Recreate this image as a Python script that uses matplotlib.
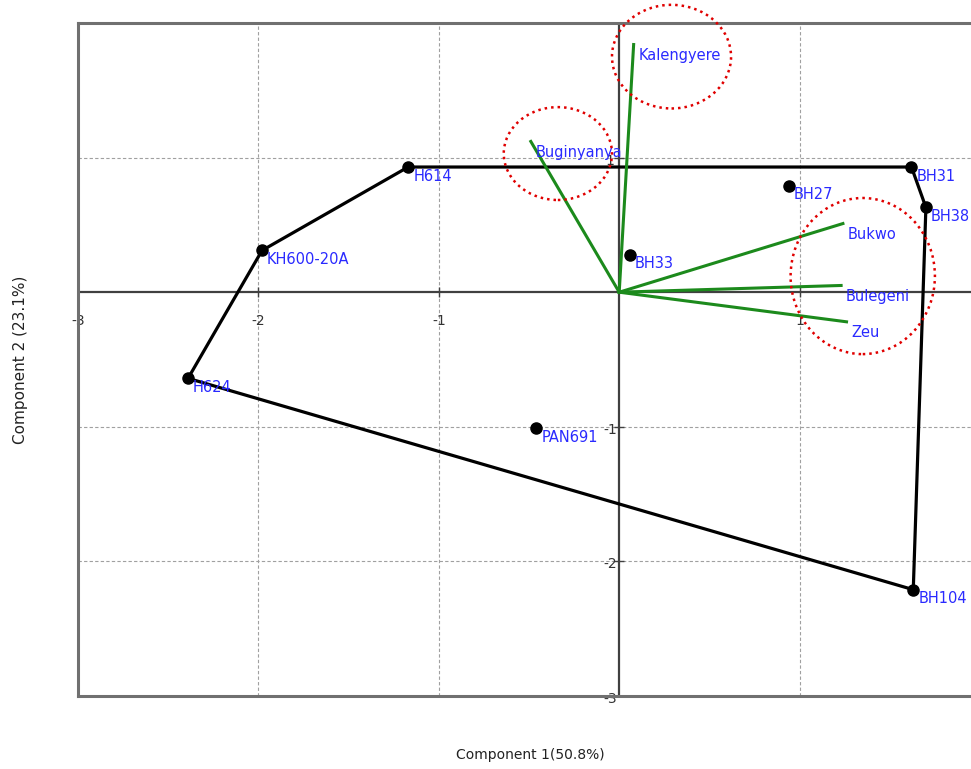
import matplotlib
matplotlib.use("Agg")
import matplotlib.pyplot as plt
from matplotlib.patches import Ellipse

# ---- data ----
genotypes = ["H614", "KH600-20A", "H624", "PAN691", "BH33", "BH27", "BH31", "BH38", "BH104"]
pc1 = [-1.17, -1.98, -2.39, -0.46, 0.06, 0.94, 1.62, 1.70, 1.63]
pc2 = [0.93, 0.31, -0.64, -1.01, 0.28, 0.79, 0.93, 0.63, -2.21]
hull_order = ["H614", "BH31", "BH38", "BH104", "H624", "KH600-20A", "H614"]

env_names = ["Kalengyere", "Buginyanya", "Bukwo", "Bulegeni", "Zeu"]
env_x = [0.08, -0.49, 1.24, 1.23, 1.26]
env_y = [1.84, 1.12, 0.51, 0.05, -0.22]

# highlighted groups (centre x, centre y, width, height) in data units
ell_cx = [0.29, -0.34, 1.35]
ell_cy = [1.75, 1.03, 0.12]
ell_w = [0.66, 0.60, 0.80]
ell_h = [0.77, 0.69, 1.16]

xticks = [-3, -2, -1, 1]
yticks = [-3, -2, -1, 1]
xlim = (-3, 1.95)
ylim = (-3, 2.0)

# ---- figure ----
fig = plt.figure(figsize=(9.71, 7.69), dpi=100)
ax = fig.add_axes([78/971, 1-696/769, 1-78/971, (696-23)/769])
ax.set_xlim(*xlim)
ax.set_ylim(*ylim)

for s in ["top", "left", "bottom"]:
    ax.spines[s].set_color("#707070")
    ax.spines[s].set_linewidth(2.2)
ax.spines["right"].set_visible(False)
ax.set_xticks([])
ax.set_yticks([])

# grid
for xt in [-2, -1, 1]:
    ax.axvline(xt, color="#a0a0a0", lw=0.8, ls=(0, (3, 2)), zorder=0)
for yt in [-2, -1, 1]:
    ax.axhline(yt, color="#a0a0a0", lw=0.8, ls=(0, (3, 2)), zorder=0)

# zero axes
ax.axhline(0, color="#404040", lw=1.6, zorder=1)
ax.axvline(0, color="#404040", lw=1.6, zorder=1)

# tick marks & labels on zero axes
ax.plot(xticks, [0]*len(xticks), ls="none", marker="|", ms=7, color="#404040", zorder=1)
ax.plot([0]*len(yticks), yticks, ls="none", marker="_", ms=7, color="#404040", zorder=1)
for xt in xticks:
    ax.annotate(str(xt), (xt, 0), xytext=(0, -29), textcoords="offset pixels",
                ha="center", va="center", fontsize=10, color="#333333", zorder=2)
for yt in yticks:
    ax.annotate(str(yt), (0, yt), xytext=(-9, -3), textcoords="offset pixels",
                ha="center", va="center", fontsize=10, color="#333333", zorder=2)

# hull
idx = {g: i for i, g in enumerate(genotypes)}
hx = [pc1[idx[g]] for g in hull_order]
hy = [pc2[idx[g]] for g in hull_order]
ax.plot(hx, hy, color="black", lw=2.3, zorder=3, solid_capstyle="round")

# environment vectors
for n, ex, ey in zip(env_names, env_x, env_y):
    ax.plot([0, ex], [0, ey], color="#1c8a1c", lw=2.2, zorder=3)
    ax.annotate(n, (ex, ey), xytext=(5, -11), textcoords="offset pixels",
                ha="left", va="center", fontsize=10.5, color="#2a2aff", zorder=5,
                annotation_clip=False)

# genotype points
ax.plot(pc1, pc2, ls="none", marker="o", ms=8, color="black", zorder=4)
for g, x, y in zip(genotypes, pc1, pc2):
    ax.annotate(g, (x, y), xytext=(5, -9), textcoords="offset pixels",
                ha="left", va="center", fontsize=10.5, color="#2a2aff", zorder=5,
                annotation_clip=False)

# red dotted ellipses
for cx, cy, w, h in zip(ell_cx, ell_cy, ell_w, ell_h):
    e = Ellipse((cx, cy), w, h, fill=False, edgecolor="#e00000", lw=1.8,
                ls=(0, (1, 1.6)), zorder=6, clip_on=False)
    ax.add_patch(e)

fig.text(530/971, 1-755/769, "Component 1(50.8%)", ha="center", va="center",
         fontsize=10, color="#222222")
fig.text(20/971, 1-360/769, "Component 2 (23.1%)", ha="center", va="center",
         rotation=90, fontsize=11, color="#222222")

fig.savefig("out.png", dpi=100)
